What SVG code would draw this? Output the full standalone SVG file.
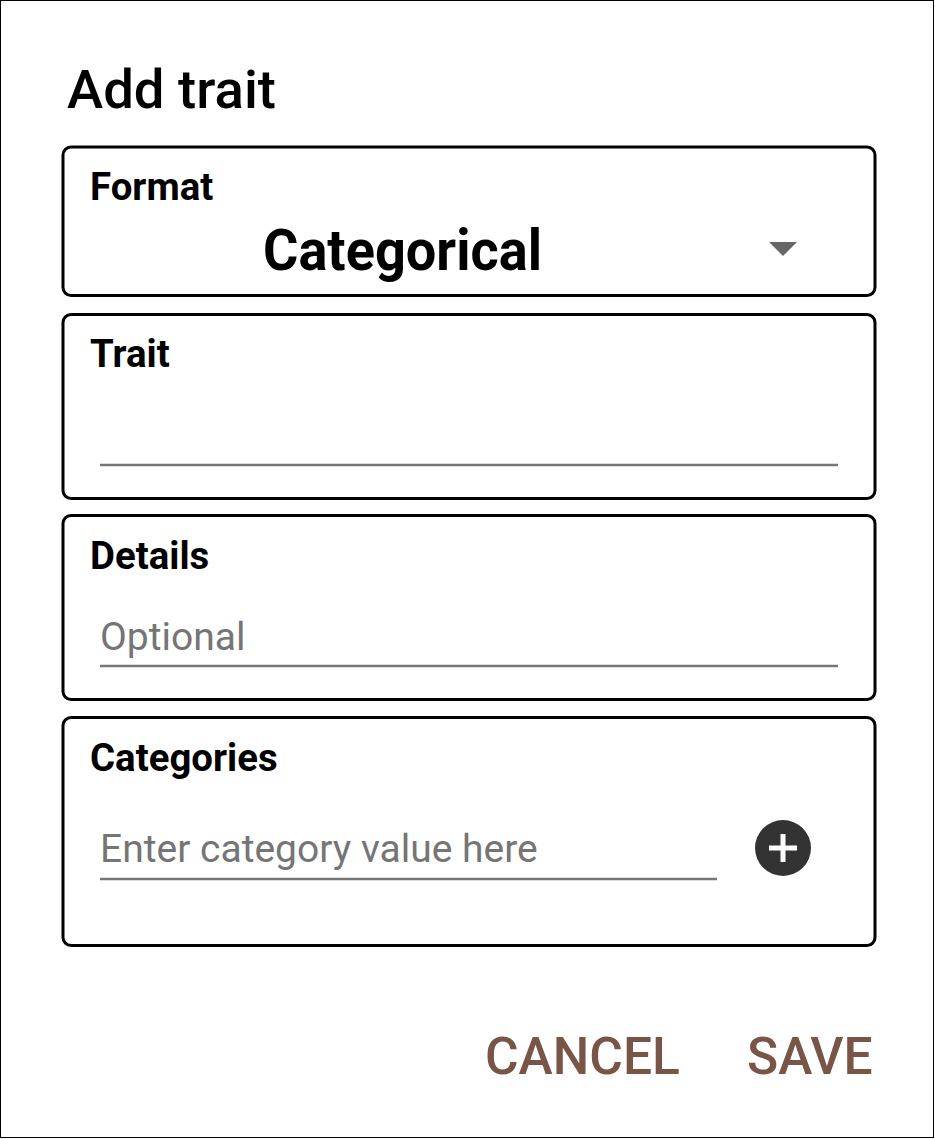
<svg xmlns="http://www.w3.org/2000/svg" width="935" height="1139" viewBox="0 0 935 1139">
<style>
.box{fill:#fff;stroke:#000;stroke-width:3}
.label{font-family:Roboto,"Liberation Sans",sans-serif;font-weight:700;font-size:38.4px;fill:#000}
.ph{font-family:Roboto,"Liberation Sans",sans-serif;font-weight:400;font-size:39px;fill:#757575}
.uline{stroke:#777;stroke-width:2.5}
.btn{font-family:Roboto,"Liberation Sans",sans-serif;font-weight:500;font-size:51.5px;fill:#795548}
</style>
<rect x="0.5" y="0.5" width="933" height="1137" fill="#fff" stroke="#000" stroke-width="1"/>
<text id="title" x="67" y="108" font-family="Roboto,'Liberation Sans',sans-serif" font-size="54.5" font-weight="500" fill="#000">Add trait</text>
<g id="format">
<rect class="box" x="63" y="147" width="812" height="148.5" rx="8"/>
<text class="label" x="90" y="200">Format</text>
<text x="263" y="270" textLength="279" lengthAdjust="spacingAndGlyphs" font-family="Roboto,'Liberation Sans',sans-serif" font-size="58" font-weight="700" fill="#000">Categorical</text>
<polygon points="769,242 797,242 783,256" fill="#666"/>
</g>
<g id="trait">
<rect class="box" x="63" y="314.5" width="812" height="184" rx="8"/>
<text class="label" x="90" y="367">Trait</text>
<line class="uline" x1="100" y1="465" x2="838" y2="465"/>
</g>
<g id="details">
<rect class="box" x="63" y="515.5" width="812" height="184" rx="8"/>
<text class="label" x="90" y="569">Details</text>
<text class="ph" x="100" y="650" font-size="38.5">Optional</text>
<line class="uline" x1="100" y1="666" x2="838" y2="666"/>
</g>
<g id="categories">
<rect class="box" x="63" y="717.5" width="812" height="228" rx="8"/>
<text class="label" x="90" y="771">Categories</text>
<text class="ph" x="100" y="862">Enter category value here</text>
<line class="uline" x1="100" y1="879" x2="717" y2="879"/>
<circle cx="783" cy="848" r="28" fill="#333"/>
<path d="M769,848 H797 M783,834 V862" stroke="#fff" stroke-width="5"/>
</g>
<g id="buttons">
<text class="btn" x="485" y="1074">CANCEL</text>
<text class="btn" x="747" y="1074">SAVE</text>
</g>
<g id="connectors"/>
</svg>
